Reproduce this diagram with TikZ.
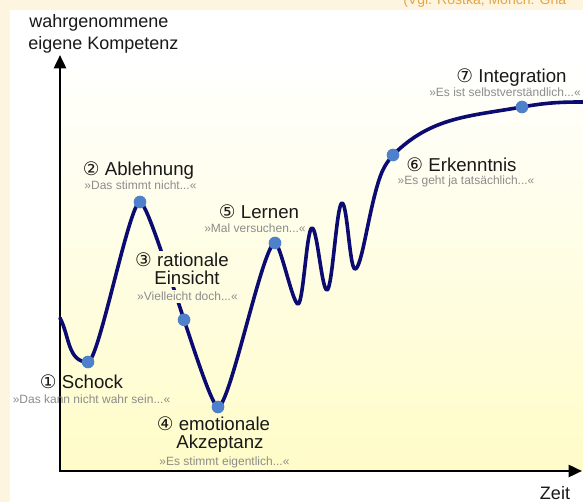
\documentclass[tikz,border=0pt]{standalone}
\usepackage{fontspec}
\setmainfont{Liberation Sans}
\newfontfamily\circfont{DejaVu Sans}
\usetikzlibrary{arrows.meta}
\definecolor{curveblue}{HTML}{0B0B72}
\definecolor{stageblue}{HTML}{4F80CC}
\definecolor{stripcream}{HTML}{FDF5E0}
\definecolor{paleyellow}{HTML}{FFFCC8}
\definecolor{noteorange}{HTML}{E3A548}
\definecolor{saygray}{HTML}{8C8C8C}
\tikzset{
  phase/.style={font=\fontsize{14}{16}\selectfont, text=black!90, inner sep=0pt, anchor=base},
  saying/.style={font=\fontsize{9}{11}\selectfont, text=saygray, inner sep=0pt, anchor=base},
  axislabel/.style={font=\fontsize{13.5}{16}\selectfont, text=black!90, inner sep=0pt},
  stage/.style={circle, fill=stageblue, inner sep=0pt, minimum size=9.5pt},
  swing/.style={out=0, in=180, distance=#1},
  cover/.style={fill=paleyellow!55!white, inner sep=1.5pt},
}
\newcommand{\nr}[1]{{\circfont #1}}

\begin{document}
\begin{tikzpicture}[x=0.75pt, y=0.75pt, >={Triangle[length=10pt,width=9pt]}, line join=round]
\useasboundingbox (0,0) rectangle (583,502);
% Hintergrund
\fill[white] (0,0) rectangle (583,502);
\fill[stripcream] (0,492) rectangle (583,502);
\fill[stripcream] (0,0) rectangle (10,502);
\shade[top color=white, bottom color=paleyellow] (60,31) rectangle (583,447);
\node[font=\fontsize{10.5}{12}\selectfont, text=noteorange, inner sep=0pt, anchor=base west] (src) at (403,497) {(Vgl. Rostka, Mönch: Gna};

% Achsen
\coordinate (O) at (60,31);
\coordinate (ytip) at (60,447);
\coordinate (xtip) at (582,31);
\draw[<->, line width=1.9pt, line join=miter] (ytip) -- (O) -- (xtip);
\node[axislabel, anchor=base west] (ylab1) at (29,474) {wahrgenommene};
\node[axislabel, anchor=base west] (ylab2) at (28,452) {eigene Kompetenz};
\node[axislabel, anchor=base] (xlab) at (555,2) {Zeit};

% Kurve
\draw[curveblue, line width=2.7pt, line cap=round]
  (60,184) to[out=-62,in=180] (88,140) coordinate (p1)
  to[swing=8pt] (140,300) coordinate (p2)
  to[swing=8pt] coordinate[pos=.55] (p3) (218,95) coordinate (p4)
  to[swing=9pt] (275,259) coordinate (p5)
  to[swing=4pt] (298,198)
  to[swing=4pt] (312,274)
  to[swing=4pt] (327,212)
  to[swing=4pt] (342,299)
  to[swing=4pt] (355,233)
  to[out=0,in=-108,out distance=5pt,in distance=26pt] (379,322)
  to[out=72,in=-130] (393,347) coordinate (p6)
  to[out=45,in=190] (522,395) coordinate (p7)
  to[out=10,in=180] (583,400);

% Phasen
\node[phase] (schock) at (81.5,113) {\nr{①} Schock};
\node[saying] (schock-q) at (91.5,98) {»Das kann nicht wahr sein...«};
\node[phase] (ablehnung) at (138.5,326) {\nr{②} Ablehnung};
\node[saying] (ablehnung-q) at (140.5,312) {»Das stimmt nicht...«};
\node[saying, cover] (einsicht-q) at (187.5,201) {»Vielleicht doch...«};
\node[phase, cover] (einsicht) at (187,217) {Einsicht};
\node[phase, cover] (rational) at (182,235) {\nr{③} rationale};
\node[phase] (emotional) at (213.5,71) {\nr{④} emotionale};
\node[phase] (akzeptanz) at (220,53) {Akzeptanz};
\node[saying] (akzeptanz-q) at (224.5,36) {»Es stimmt eigentlich...«};
\node[phase] (lernen) at (259,283) {\nr{⑤} Lernen};
\node[saying] (lernen-q) at (255,269) {»Mal versuchen...«};
\node[phase] (erkenntnis) at (461.5,330) {\nr{⑥} Erkenntnis};
\node[saying] (erkenntnis-q) at (466,317) {»Es geht ja tatsächlich...«};
\node[phase] (integration) at (511.5,419) {\nr{⑦} Integration};
\node[saying] (integration-q) at (505,405) {»Es ist selbstverständlich...«};

\foreach \p in {p1,p2,p3,p4,p5,p6,p7}
  \node[stage] (dot-\p) at (\p) {};
\end{tikzpicture}
\end{document}
